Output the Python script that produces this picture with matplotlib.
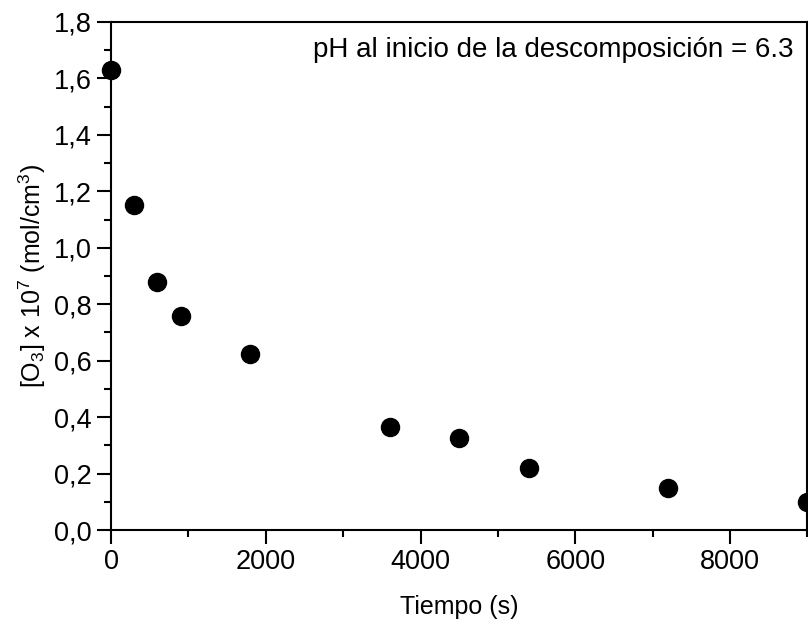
import matplotlib
matplotlib.use("Agg")
import matplotlib.pyplot as plt
from matplotlib.ticker import MultipleLocator, FuncFormatter

# datos de descomposición de ozono
tiempo = [0, 300, 600, 900, 1800, 3600, 4500, 5400, 7200, 9000]
ozono = [1.63, 1.15, 0.88, 0.76, 0.625, 0.365, 0.325, 0.22, 0.15, 0.10]

plt.rcParams["font.family"] = ["Liberation Sans", "DejaVu Sans"]
plt.rcParams["mathtext.fontset"] = "custom"
plt.rcParams["mathtext.rm"] = "Liberation Sans"
plt.rcParams["mathtext.it"] = "Liberation Sans:italic"
plt.rcParams["mathtext.default"] = "regular"

fig = plt.figure(figsize=(8.08, 6.21), dpi=100)
ax = fig.add_axes([0.1374, 0.1465, 0.8618, 0.8181])

ax.plot(tiempo, ozono, "o", color="black", markersize=13, clip_on=False, zorder=3)

ax.set_xlim(0, 9000)
ax.set_ylim(0, 1.8)

ax.xaxis.set_major_locator(MultipleLocator(2000))
ax.xaxis.set_minor_locator(MultipleLocator(1000))
ax.yaxis.set_major_locator(MultipleLocator(0.2))
ax.yaxis.set_minor_locator(MultipleLocator(0.1))
ax.yaxis.set_major_formatter(FuncFormatter(lambda v, p: f"{v:.1f}".replace(".", ",")))

for s in ax.spines.values():
    s.set_linewidth(1.5)

ax.tick_params(which="major", direction="out", length=10, width=1.5, labelsize=19.5, pad=4)
ax.tick_params(which="minor", direction="out", length=5, width=1.5)
ax.tick_params(which="both", top=False, right=False)

ax.set_xlabel("Tiempo (s)", fontsize=18, labelpad=14)
ax.set_ylabel("[O$_3$] x 10$^7$ (mol/cm$^3$)", fontsize=18, labelpad=4)

ax.text(0.98, 0.945, "pH al inicio de la descomposición = 6.3", transform=ax.transAxes,
        ha="right", va="center", fontsize=20)

fig.savefig("out.png", dpi=100)
